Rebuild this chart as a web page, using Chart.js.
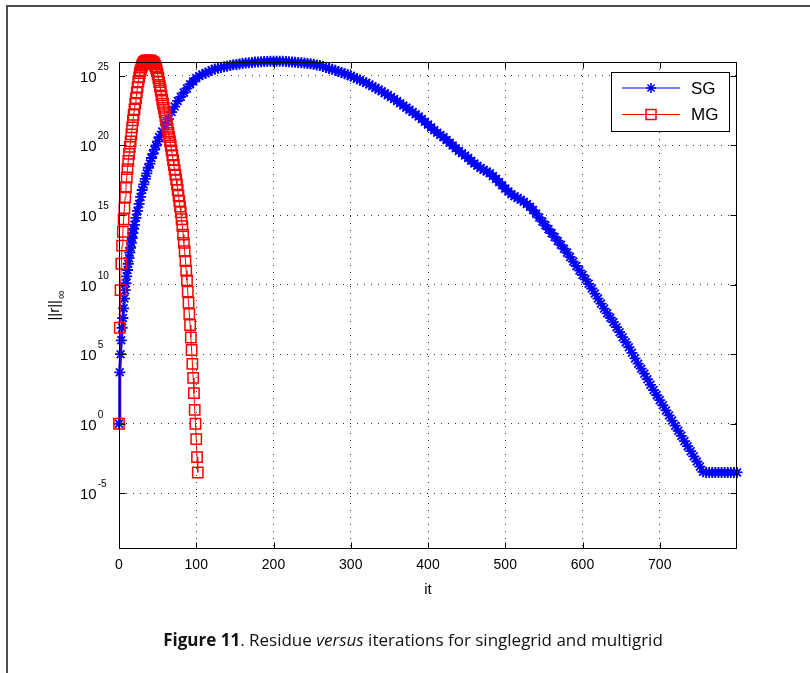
<!DOCTYPE html>
<html><head><meta charset="utf-8">
<script src="https://cdn.jsdelivr.net/npm/chart.js@4.4.1/dist/chart.umd.min.js"></script>
<style>
html,body{margin:0;padding:0;background:#fff;width:810px;height:673px;overflow:hidden;}
#frame{position:absolute;left:6px;top:5px;width:900px;height:900px;border:2px solid #4d4d4d;box-sizing:border-box;}
#c{position:absolute;left:0;top:0;}
#cap{position:absolute;left:0;top:629px;width:826px;text-align:center;font-family:"Open Sans";font-size:17px;line-height:22px;color:#111;white-space:nowrap;}
</style></head><body>
<div id="frame"></div>
<canvas id="c" width="810" height="673"></canvas>
<div id="cap"><b>Figure 11</b>. Residue <i>versus</i> iterations for singlegrid and multigrid</div>
<script>
// ---- data (log10 of the residue) ----
const xTicks = [0, 100, 200, 300, 400, 500, 600, 700];
const yTickExps = [-5, 0, 5, 10, 15, 20, 25];
const seriesNames = ['SG', 'MG'];

const sgIt = [0,1,2,3,4,5,6,7,8,9,10,11,12,13,14,15,16,17,18,19,20,
  22,24,26,28,30,32,34,36,38,40,42,44,46,48,50,
  52,56,60,64,68,72,76,80,84,88,92,96,100,104,108,112,116,120,124,128,132,136,140,144,148,
  152,156,160,164,168,172,176,180,184,188,192,196,200,204,208,212,216,220,224,228,232,236,240,244,248,
  252,256,260,264,268,272,276,280,284,288,292,296,300,304,308,312,316,320,324,328,332,336,340,344,348,
  352,356,360,364,368,372,376,380,384,388,392,396,400,404,408,412,416,420,424,428,432,436,440,444,448,
  452,456,460,464,468,472,476,480,484,488,492,496,500,504,508,512,516,520,524,528,532,536,540,544,548,
  552,556,560,564,568,572,576,580,584,588,592,596,600,604,608,612,616,620,624,628,632,636,640,644,648,
  652,656,660,664,668,672,676,680,684,688,692,696,700,704,708,712,716,720,724,728,732,736,740,744,748,
  752,756,760,764,768,772,776,780,784,788,792,796,800];
const sgExp = [0,3.7,5.0,6.0,6.9,7.6,8.3,9.0,9.6,10.1,10.6,11.05,11.5,11.9,12.3,12.65,13.0,13.35,13.7,14.0,14.3,
  14.8,15.3,15.8,16.3,16.8,17.2,17.6,18.0,18.4,18.7,19.1,19.4,19.7,20.0,20.3,
  20.6,21.0,21.5,21.9,22.4,22.8,23.2,23.5,23.8,24.1,24.4,24.6,24.85,25.0,25.1,25.2,25.3,25.4,25.5,25.55,25.6,25.65,25.7,25.75,25.8,
  25.82,25.85,25.9,25.92,25.95,25.97,26.0,26.0,26.02,26.03,26.04,26.05,26.05,26.06,26.05,26.05,26.04,26.02,26.0,25.98,25.96,25.94,25.92,25.9,25.87,
  25.83,25.79,25.75,25.67,25.6,25.53,25.47,25.4,25.32,25.24,25.16,25.08,25.0,24.9,24.8,24.7,24.6,24.5,24.38,24.26,24.14,24.02,23.9,23.76,23.62,
  23.48,23.34,23.2,23.04,22.88,22.72,22.56,22.4,22.24,22.08,21.9,21.7,21.5,21.3,21.1,20.92,20.76,20.6,20.4,20.2,20.0,19.8,19.6,19.44,19.28,
  19.1,18.9,18.7,18.54,18.38,18.25,18.13,18.0,17.8,17.6,17.38,17.14,16.9,16.7,16.5,16.35,16.22,16.1,15.95,15.8,15.6,15.36,15.1,14.82,14.54,
  14.26,13.98,13.7,13.42,13.14,12.86,12.58,12.3,11.98,11.66,11.34,11.02,10.7,10.38,10.06,9.72,9.36,9.0,8.64,8.28,7.94,7.62,7.3,6.94,6.58,
  6.22,5.86,5.5,5.1,4.7,4.32,3.96,3.6,3.2,2.8,2.42,2.06,1.7,1.33,0.96,0.6,0.23,-0.14,-0.5,-0.87,-1.24,-1.61,-1.97,-2.34,-2.71,
  -3.08,-3.45,-3.5,-3.5,-3.5,-3.5,-3.5,-3.5,-3.5,-3.5,-3.5,-3.5,-3.5];

const mgIt = [0,1,2,3,4,5,6,7,8,9,10,11,12,13,14,15,16,17,18,19,20,21,22,23,24,25,26,27,28,29,30,
  31,32,33,34,35,36,37,38,39,40,41,42,43,44,45,46,47,48,49,50,51,52,53,54,55,56,57,58,59,60,
  61,62,63,64,65,66,67,68,69,70,71,72,73,74,75,76,77,78,79,80,81,82,83,84,85,86,87,88,89,90,
  91,92,93,94,95,96,97,98,99,100,101,102];
const mgExp = [0,6.9,9.6,11.5,12.8,13.8,14.7,15.5,16.3,17.0,17.7,18.3,18.9,19.4,19.9,20.3,20.8,21.3,21.8,22.2,22.6,23.0,23.4,23.8,24.2,24.6,24.9,25.2,25.4,25.6,25.75,
  25.85,25.95,26.0,26.05,26.1,26.1,26.1,26.1,26.1,26.1,26.1,26.05,26.0,25.95,25.95,25.85,25.7,25.55,25.35,25.1,24.85,24.55,24.25,23.95,23.6,23.3,23.0,22.7,22.4,22.1,
  21.8,21.5,21.2,20.9,20.6,20.3,20.0,19.65,19.3,18.95,18.6,18.25,17.9,17.55,17.2,16.8,16.4,16.0,15.6,15.2,14.7,14.2,13.6,13.0,12.4,11.7,11.0,10.3,9.5,8.7,
  7.9,7.1,6.2,5.3,4.3,3.3,2.2,1.0,0.0,-1.1,-2.4,-3.5];

const sgColor = '#0000ff';
const mgColor = '#ff0000';

const sgData = sgIt.map((it, i) => ({x: it, y: Math.pow(10, sgExp[i])}));
const mgData = mgIt.map((it, i) => ({x: it, y: Math.pow(10, mgExp[i])}));

const FONT = "'Liberation Sans', Arial, sans-serif";

const matlabAxes = {
  id: 'matlabAxes',
  afterDraw(chart) {
    const ctx = chart.ctx, a = chart.chartArea, xs = chart.scales.x, ys = chart.scales.y;
    const L = Math.round(a.left) + 0.5, R = Math.round(a.right) - 0.5;
    const T = Math.round(a.top) + 0.5, B = Math.round(a.bottom) - 0.5;
    ctx.save();
    ctx.strokeStyle = '#000'; ctx.lineWidth = 1; ctx.setLineDash([]);
    ctx.strokeRect(L, T, R - L, B - T);
    ctx.beginPath();
    xTicks.forEach(v => {
      const p = Math.round(xs.getPixelForValue(v)) + 0.5;
      ctx.moveTo(p, B); ctx.lineTo(p, B - 6);
      ctx.moveTo(p, T); ctx.lineTo(p, T + 6);
    });
    yTickExps.forEach(e => {
      const p = Math.round(ys.getPixelForValue(Math.pow(10, e))) + 0.5;
      ctx.moveTo(L, p); ctx.lineTo(L + 6, p);
      ctx.moveTo(R, p); ctx.lineTo(R - 6, p);
    });
    ctx.stroke();

    // y tick labels 10^e
    ctx.fillStyle = '#000'; ctx.textAlign = 'left'; ctx.textBaseline = 'alphabetic';
    yTickExps.forEach(e => {
      const p = ys.getPixelForValue(Math.pow(10, e));
      ctx.font = '15px ' + FONT;
      ctx.fillText('10', 80, p + 6);
      const w = ctx.measureText('10').width;
      ctx.font = '10px ' + FONT;
      ctx.fillText(String(e), 80 + w + 1, p - 6);
    });

    // x axis title
    ctx.font = '15px ' + FONT; ctx.textAlign = 'center'; ctx.textBaseline = 'middle';
    ctx.fillText('it', (a.left + a.right) / 2, 590);

    // y axis title ||r||_inf
    ctx.save();
    ctx.translate(55, (a.top + a.bottom) / 2);
    ctx.rotate(-Math.PI / 2);
    ctx.font = '15px ' + FONT; ctx.textAlign = 'left'; ctx.textBaseline = 'middle';
    const mainTxt = '||r||';
    const mw = ctx.measureText(mainTxt).width;
    ctx.font = '12px ' + FONT;
    const sw = ctx.measureText('\u221E').width;
    const start = -(mw + sw + 1) / 2;
    ctx.font = '15px ' + FONT;
    ctx.fillText(mainTxt, start, 0);
    ctx.font = '12px ' + FONT;
    ctx.fillText('\u221E', start + mw + 1, 7);
    ctx.restore();

    // legend
    const lx = 611.5, ly = 72.5, lw = 118, lh = 59;
    ctx.fillStyle = '#fff'; ctx.fillRect(lx, ly, lw, lh);
    ctx.strokeStyle = '#000'; ctx.lineWidth = 1; ctx.strokeRect(lx, ly, lw, lh);
    const rows = [{y: 88, c: sgColor, m: 'star'}, {y: 114.5, c: mgColor, m: 'rect'}];
    rows.forEach((r, i) => {
      ctx.strokeStyle = r.c; ctx.lineWidth = 1;
      ctx.beginPath(); ctx.moveTo(622, r.y); ctx.lineTo(680, r.y); ctx.stroke();
      ctx.lineWidth = 1.5;
      ctx.beginPath();
      if (r.m === 'star') {
        const s = 5, d = s * Math.SQRT1_2;
        ctx.moveTo(651 - s, r.y); ctx.lineTo(651 + s, r.y);
        ctx.moveTo(651, r.y - s); ctx.lineTo(651, r.y + s);
        ctx.moveTo(651 - d, r.y - d); ctx.lineTo(651 + d, r.y + d);
        ctx.moveTo(651 - d, r.y + d); ctx.lineTo(651 + d, r.y - d);
      } else {
        ctx.rect(646, r.y - 5, 10, 10);
      }
      ctx.stroke();
      ctx.fillStyle = '#000'; ctx.font = '17px ' + FONT; ctx.textAlign = 'left'; ctx.textBaseline = 'middle';
      ctx.fillText(seriesNames[i], 691, r.y + 1);
    });
    ctx.restore();
  }
};

new Chart(document.getElementById('c'), {
  type: 'line',
  data: {
    datasets: [
      {label: seriesNames[0], data: sgData, order: 1, borderColor: sgColor, backgroundColor: 'rgba(0,0,0,0)',
       borderWidth: 3, pointStyle: 'star', pointRadius: 5.5, pointBorderWidth: 1.8, pointBorderColor: sgColor,
       pointBackgroundColor: sgColor, tension: 0, clip: false},
      {label: seriesNames[1], data: mgData, order: 0, borderColor: mgColor, backgroundColor: 'rgba(0,0,0,0)',
       borderWidth: 1, pointStyle: 'rect', pointRadius: 7.3, pointBorderWidth: 1.5, pointBorderColor: mgColor,
       pointBackgroundColor: 'rgba(0,0,0,0)', tension: 0, clip: false}
    ]
  },
  options: {
    responsive: false, animation: false, devicePixelRatio: 1, events: [],
    layout: {padding: {left: 89, right: 73, top: 62, bottom: 74}},
    plugins: {legend: {display: false}, tooltip: {enabled: false}},
    scales: {
      x: {
        type: 'linear', min: 0, max: 800,
        afterBuildTicks: s => { s.ticks = xTicks.map(v => ({value: v})); },
        afterFit: s => { s.height = 50; },
        grid: {color: '#333', lineWidth: 1, drawTicks: false},
        border: {display: false, dash: [1, 6]},
        ticks: {color: '#000', font: {family: FONT, size: 14}, padding: 8, maxRotation: 0, autoSkip: false,
                callback: v => String(v)}
      },
      y: {
        type: 'logarithmic', min: 1e-9, max: 1e26,
        afterBuildTicks: s => { s.ticks = yTickExps.map(e => ({value: Math.pow(10, e)})); },
        afterFit: s => { s.width = 30; },
        grid: {color: '#333', lineWidth: 1, drawTicks: false},
        border: {display: false, dash: [1, 6]},
        ticks: {display: false}
      }
    }
  },
  plugins: [matlabAxes]
});
</script>
</body></html>
